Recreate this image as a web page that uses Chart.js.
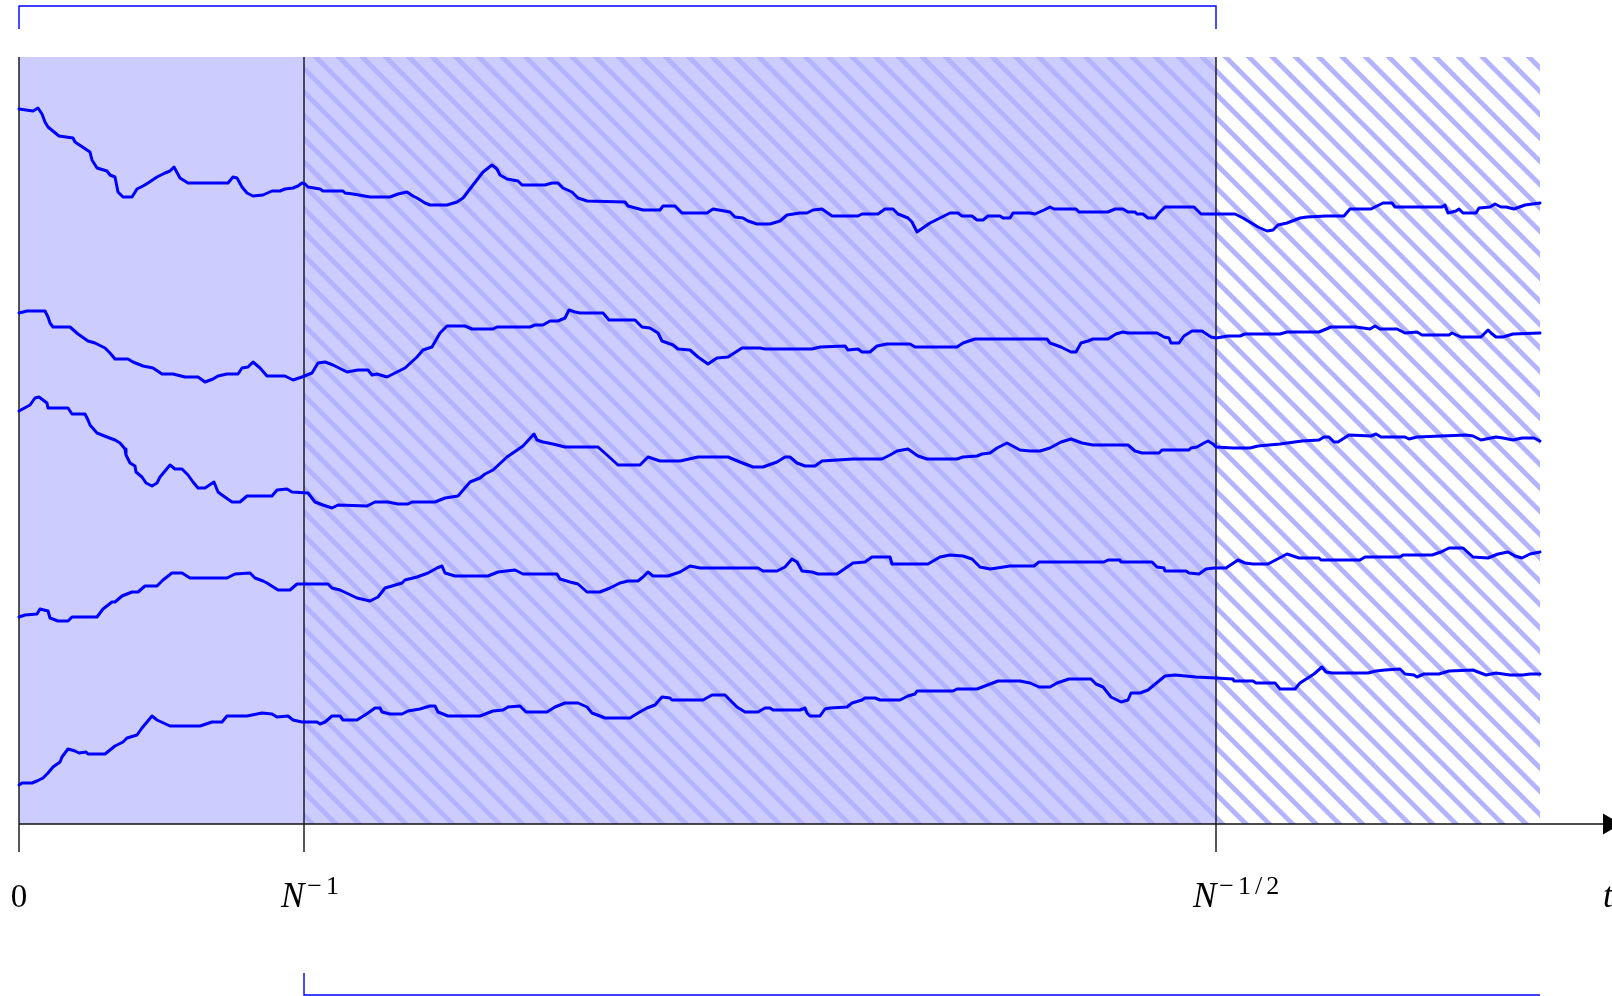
<!DOCTYPE html>
<html>
<head>
<meta charset="utf-8">
<script src="https://cdn.jsdelivr.net/npm/chart.js@4.4.1/dist/chart.umd.min.js"></script>
<style>
  html, body { margin: 0; padding: 0; background: #fff; overflow: hidden; }
  canvas { display: block; }
</style>
</head>
<body>
<canvas id="walks" width="1612" height="996"></canvas>
<script>
// time axis: 0, N^-1, N^-1/2 (data units along t)
const tickValues = [0, 285, 1197];
const tickNames = ['0', 'N', 'N'];
const tickSups = ['', '\u22121', '\u22121/2'];
const axisName = 't';
const bandTop = 767;      // height of the shaded strip
const hatchEnd = 1521;    // where the hatched strip stops
const axisEnd = 1584;

// brackets above and below
const topBracket = [[0, 795], [0, 818], [1197, 818], [1197, 795]];
const bottomBracket = [[285, -149], [285, -171], [1521, -171]];

// the five sample paths, [t, value]
const walk1 = [[0,715],[14,713],[19,716],[23,710],[26,702],[29,697],[40,688],[54,686],[56,682],[71,672],[73,664],[78,656],[88,653],[91,649],[96,647],[99,632],[104,627],[113,627],[118,635],[124,638],[129,641],[138,647],[146,651],[151,653],[155,657],[161,646],[169,641],[209,641],[214,647],[218,646],[223,637],[228,631],[234,628],[244,629],[253,633],[261,633],[266,635],[274,636],[279,638],[283,641],[286,640],[289,637],[301,635],[304,633],[324,633],[326,631],[334,630],[351,627],[371,627],[379,630],[388,632],[394,628],[398,626],[406,621],[411,619],[428,619],[438,622],[444,626],[454,639],[464,652],[473,659],[478,655],[481,649],[488,645],[499,643],[503,639],[526,639],[533,641],[539,641],[544,636],[553,632],[559,626],[568,623],[606,622],[609,618],[624,614],[641,614],[644,618],[656,618],[663,611],[688,611],[694,615],[711,612],[716,607],[724,606],[729,603],[738,600],[751,600],[761,603],[768,609],[781,611],[788,611],[794,614],[803,615],[813,608],[839,608],[843,610],[859,610],[866,615],[874,615],[879,610],[889,606],[893,602],[898,592],[911,601],[931,611],[939,611],[943,608],[953,608],[958,604],[964,604],[969,608],[981,608],[984,606],[991,606],[994,611],[1011,611],[1016,610],[1025,614],[1031,617],[1035,615],[1057,615],[1060,612],[1089,612],[1096,615],[1104,615],[1109,612],[1116,612],[1118,610],[1124,610],[1129,606],[1136,606],[1140,611],[1146,617],[1175,617],[1182,610],[1216,610],[1224,606],[1239,597],[1248,593],[1254,594],[1259,599],[1268,601],[1281,606],[1288,607],[1307,608],[1325,608],[1331,615],[1352,615],[1364,621],[1373,621],[1376,617],[1423,617],[1426,619],[1429,611],[1437,613],[1440,615],[1444,611],[1457,611],[1460,616],[1471,617],[1476,620],[1482,617],[1487,617],[1495,615],[1506,619],[1521,621]];
const walk2 = [[0,511],[8,513],[26,513],[29,507],[31,501],[34,497],[51,497],[59,490],[69,483],[76,481],[86,476],[91,471],[96,465],[109,465],[114,462],[124,458],[134,456],[143,450],[154,450],[166,447],[179,447],[186,442],[194,445],[199,448],[208,450],[219,450],[223,456],[229,457],[234,462],[241,456],[248,448],[266,448],[274,444],[283,447],[293,451],[299,461],[306,462],[314,459],[328,452],[339,454],[349,454],[353,449],[358,450],[368,447],[376,451],[386,456],[398,467],[404,474],[413,477],[421,491],[428,498],[446,498],[453,495],[474,495],[478,497],[511,497],[516,499],[524,499],[531,503],[539,503],[546,506],[550,514],[556,512],[561,511],[584,511],[590,504],[616,504],[623,497],[631,496],[639,491],[643,483],[654,479],[659,475],[671,474],[679,467],[689,460],[698,466],[709,467],[723,476],[741,476],[746,475],[793,475],[801,477],[826,478],[829,474],[839,475],[843,472],[851,472],[858,478],[868,480],[891,480],[896,477],[903,477],[938,477],[944,481],[956,485],[1028,485],[1031,481],[1042,477],[1052,472],[1057,472],[1062,481],[1069,483],[1074,485],[1089,485],[1097,490],[1104,492],[1109,491],[1138,491],[1145,487],[1150,486],[1152,481],[1160,481],[1165,488],[1173,493],[1183,493],[1192,487],[1197,486],[1209,488],[1221,488],[1226,490],[1261,490],[1268,492],[1300,492],[1312,497],[1337,497],[1351,495],[1356,498],[1361,495],[1378,495],[1386,491],[1398,492],[1403,489],[1430,489],[1433,491],[1442,487],[1462,487],[1469,494],[1472,491],[1477,487],[1484,487],[1494,490],[1521,491]];
const walk3 = [[0,413],[11,419],[16,426],[20,427],[28,421],[29,416],[49,416],[53,410],[66,410],[69,404],[71,399],[78,391],[88,387],[96,384],[101,381],[106,375],[107,369],[111,361],[116,358],[117,352],[123,347],[127,341],[133,338],[138,341],[141,347],[151,359],[156,355],[163,355],[169,349],[174,342],[179,336],[186,336],[195,342],[199,332],[203,329],[213,322],[221,322],[228,328],[253,328],[258,334],[268,335],[273,332],[289,331],[296,322],[304,319],[313,316],[319,319],[348,318],[356,322],[369,322],[379,320],[389,320],[393,322],[416,322],[426,326],[439,328],[451,342],[461,346],[466,350],[474,354],[488,367],[504,378],[515,390],[518,384],[524,382],[534,380],[546,377],[579,377],[588,369],[599,359],[621,359],[629,367],[641,363],[661,363],[679,367],[709,367],[721,362],[734,357],[744,357],[758,362],[766,367],[771,367],[778,361],[786,358],[796,358],[803,363],[834,365],[863,365],[871,369],[878,373],[889,375],[899,368],[908,365],[938,365],[944,367],[958,368],[963,370],[971,371],[978,376],[988,381],[1001,374],[1011,373],[1021,373],[1031,376],[1042,382],[1052,385],[1063,381],[1074,379],[1109,379],[1116,373],[1123,371],[1140,371],[1143,374],[1170,374],[1172,376],[1178,377],[1185,381],[1189,383],[1194,380],[1197,377],[1214,376],[1231,376],[1239,378],[1261,380],[1283,383],[1300,384],[1305,387],[1310,387],[1315,382],[1319,382],[1330,389],[1352,388],[1357,390],[1362,387],[1386,387],[1390,385],[1398,387],[1447,389],[1454,388],[1462,384],[1477,387],[1484,386],[1494,384],[1503,386],[1515,386],[1521,383]];
const walk4 = [[0,207],[6,209],[18,210],[21,215],[29,213],[31,206],[39,203],[49,203],[53,207],[78,207],[84,215],[93,222],[96,222],[103,228],[113,232],[119,232],[126,238],[138,238],[144,244],[153,251],[163,251],[171,246],[208,246],[216,250],[231,251],[236,246],[244,243],[248,241],[259,234],[271,234],[278,240],[309,240],[313,236],[321,234],[338,226],[351,223],[359,227],[366,236],[373,238],[383,241],[386,244],[398,247],[409,251],[418,256],[423,258],[426,251],[436,248],[469,248],[479,252],[496,254],[504,250],[538,250],[541,245],[551,242],[559,240],[568,232],[581,232],[591,236],[601,241],[609,243],[619,243],[624,247],[629,252],[634,248],[649,248],[661,252],[671,258],[681,256],[739,256],[744,253],[758,253],[766,257],[773,265],[778,262],[783,253],[793,252],[799,250],[818,250],[834,261],[846,262],[853,267],[871,267],[873,260],[909,260],[921,267],[931,269],[944,268],[953,265],[961,257],[971,255],[978,256],[991,258],[1015,258],[1020,262],[1085,262],[1089,264],[1101,264],[1102,262],[1133,262],[1138,257],[1145,256],[1146,253],[1167,253],[1170,251],[1180,250],[1187,255],[1195,256],[1207,256],[1219,264],[1226,261],[1234,260],[1249,260],[1268,270],[1280,266],[1300,266],[1302,264],[1341,264],[1346,267],[1381,267],[1384,269],[1413,269],[1422,272],[1430,276],[1444,276],[1454,267],[1469,266],[1479,270],[1489,272],[1496,268],[1503,266],[1511,270],[1521,272]];
const walk5 = [[0,39],[3,41],[13,41],[18,43],[24,46],[29,51],[34,57],[41,62],[43,67],[49,75],[56,73],[60,71],[67,72],[69,70],[86,70],[96,78],[104,82],[108,86],[118,89],[123,96],[128,102],[133,108],[138,104],[151,98],[181,98],[193,102],[203,102],[208,108],[228,108],[243,111],[253,110],[258,107],[269,108],[274,104],[283,102],[298,102],[301,100],[306,102],[313,108],[321,108],[324,104],[338,104],[349,111],[356,116],[361,116],[363,112],[371,110],[383,110],[389,113],[401,115],[411,118],[416,118],[419,112],[429,108],[461,108],[474,113],[484,114],[489,117],[501,118],[507,112],[528,112],[536,117],[546,121],[559,121],[568,117],[573,111],[586,106],[611,106],[619,111],[628,116],[636,119],[643,127],[651,126],[653,124],[684,124],[693,129],[706,129],[718,117],[726,112],[739,112],[746,116],[751,116],[754,114],[781,114],[786,116],[788,111],[791,108],[801,108],[806,115],[811,116],[828,117],[833,121],[843,124],[846,126],[856,126],[861,124],[881,124],[889,128],[896,130],[898,133],[934,133],[938,135],[958,135],[979,143],[1001,143],[1011,141],[1020,137],[1031,137],[1038,141],[1050,145],[1072,145],[1077,140],[1084,137],[1092,127],[1102,122],[1109,124],[1112,131],[1121,131],[1129,134],[1146,148],[1156,149],[1177,147],[1197,146],[1214,145],[1215,143],[1234,143],[1237,141],[1256,141],[1261,135],[1276,135],[1281,141],[1295,150],[1303,157],[1307,152],[1313,151],[1349,151],[1357,153],[1366,154],[1381,155],[1386,150],[1395,149],[1398,147],[1405,150],[1420,150],[1430,153],[1454,154],[1459,152],[1467,149],[1477,151],[1491,149],[1504,149],[1511,150],[1521,150]];

const walks = [walk1, walk2, walk3, walk4, walk5];

function pts(arr) {
  return arr.map(p => ({x: p[0], y: p[1]}));
}

// "north west lines" pattern, light blue on transparent
function makeStripes() {
  var size = 70, step = size / 3;
  var c = document.createElement('canvas');
  c.width = size; c.height = size;
  var g = c.getContext('2d');
  g.strokeStyle = 'rgb(179,179,255)';
  g.lineWidth = 4.8;
  for (var k = -4; k <= 4; k++) {
    var o = 2 + k * step;
    g.beginPath();
    g.moveTo(o - 10, -10);
    g.lineTo(o + size + 10, size + 10);
    g.stroke();
  }
  return g.createPattern(c, 'repeat');
}

var datasets = [];

// paths
walks.forEach(function (w) {
  datasets.push({
    data: pts(w),
    borderColor: '#0000ff',
    borderWidth: 3,
    borderJoinStyle: 'round',
    borderCapStyle: 'round',
    pointRadius: 0,
    fill: false,
    clip: false,
    order: 1
  });
});

// vertical lines through 0, N^-1, N^-1/2 down to the tick ends
tickValues.forEach(function (v) {
  datasets.push({
    data: [{x: v, y: bandTop}, {x: v, y: -28}],
    borderColor: '#111',
    borderWidth: 1.4,
    pointRadius: 0,
    fill: false,
    clip: false,
    order: 5
  });
});

// time axis and arrow head
datasets.push({
  data: [{x: 0, y: 0}, {x: axisEnd, y: 0}],
  borderColor: '#111', borderWidth: 1.4, pointRadius: 0, fill: false, clip: false, order: 5
});
datasets.push({
  data: [{x: axisEnd + 6, y: 0}],
  showLine: false,
  pointStyle: 'triangle', rotation: 90, pointRadius: 12,
  pointBackgroundColor: '#000', pointBorderColor: '#000', pointBorderWidth: 0,
  clip: false, order: 5
});

// brackets
[topBracket, bottomBracket].forEach(function (b) {
  datasets.push({
    data: pts(b),
    borderColor: '#0000ff', borderWidth: 1.4, pointRadius: 0, fill: false, clip: false, order: 5
  });
});

// shaded strip [0, N^-1/2] and hatched strip [N^-1, end]
datasets.push({
  data: [{x: tickValues[1], y: bandTop}, {x: hatchEnd, y: bandTop}],
  fill: 'origin', backgroundColor: makeStripes(), borderWidth: 0, pointRadius: 0, order: 9
});
datasets.push({
  data: [{x: tickValues[0], y: bandTop}, {x: tickValues[2], y: bandTop}],
  fill: 'origin', backgroundColor: 'rgb(204,204,255)', borderWidth: 0, pointRadius: 0, order: 10
});

// tick labels with superscripts
var axisText = {
  id: 'axisText',
  afterDraw: function (chart) {
    var ctx = chart.ctx, x = chart.scales.x, y = chart.scales.y;
    var base = y.getPixelForValue(-83), sup = y.getPixelForValue(-70);
    ctx.save();
    ctx.fillStyle = '#000';
    ctx.textBaseline = 'alphabetic';
    tickValues.forEach(function (v, i) {
      var px = x.getPixelForValue(v);
      if (!tickSups[i]) {
        ctx.font = '33px "Liberation Serif"';
        ctx.textAlign = 'center';
        ctx.fillText(tickNames[i], px, base);
        return;
      }
      ctx.textAlign = 'left';
      ctx.font = 'italic 35px "Liberation Serif"';
      var left = px - 23;
      ctx.fillText(tickNames[i], left, base);
      var w = ctx.measureText(tickNames[i]).width;
      ctx.font = '26px "Liberation Serif"';
      ctx.letterSpacing = '4px';
      ctx.fillText(tickSups[i], left + w + 3, sup);
      ctx.letterSpacing = '0px';
    });
    ctx.font = 'italic 35px "Liberation Serif"';
    ctx.textAlign = 'left';
    ctx.fillText(axisName, x.getPixelForValue(axisEnd), base);
    ctx.restore();
  }
};

new Chart(document.getElementById('walks'), {
  type: 'line',
  data: { datasets: datasets },
  options: {
    responsive: false,
    animation: false,
    events: [],
    layout: { autoPadding: false, padding: { left: 19, right: 0, top: 57, bottom: 172 } },
    plugins: { legend: { display: false }, tooltip: { enabled: false } },
    elements: { line: { tension: 0 } },
    scales: {
      x: { type: 'linear', display: false, min: 0, max: 1593 },
      y: { type: 'linear', display: false, min: 0, max: bandTop }
    }
  },
  plugins: [axisText]
});
</script>
</body>
</html>
